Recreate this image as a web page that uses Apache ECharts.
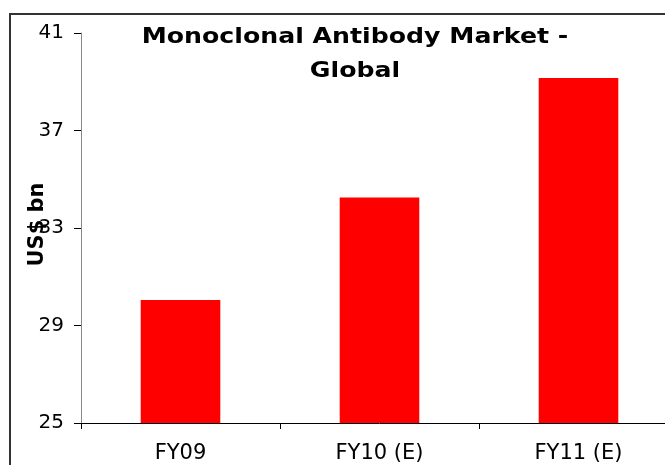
<!DOCTYPE html>
<html>
<head>
<meta charset="utf-8">
<script src="https://cdn.jsdelivr.net/npm/echarts@6/dist/echarts.min.js"></script>
<style>
  html, body { margin: 0; padding: 0; background: #fff; overflow: hidden; }
  /* a bit wider than the window: the last category runs off the right edge */
  #main { width: 680px; height: 465px; }
</style>
</head>
<body>
<div id="main"></div>
<script>
// data
var categories = ['FY09', 'FY10 (E)', 'FY11 (E)'];
var marketSize = [30.05, 34.25, 39.15];
var yTicks = [25, 29, 33, 37, 41];
var chartTitle = 'Monoclonal Antibody Market -\nGlobal';

var chart = echarts.init(document.getElementById('main'));

var option = {
  backgroundColor: '#fff',
  textStyle: { fontFamily: 'DejaVu Sans' },
  animation: false,
  graphic: [
    // outer frame, runs off the right and bottom edges
    {
      type: 'rect',
      shape: { x: 10, y: 14, width: 700, height: 500 },
      style: { fill: 'none', stroke: '#333', lineWidth: 2 },
      z: 100
    },
    // title, a bit wider than DejaVu bold so stretched
    {
      type: 'text',
      x: 355,
      y: 21,
      scaleX: 1.2,
      style: {
        text: chartTitle,
        align: 'center',
        verticalAlign: 'top',
        font: 'bold 21px "DejaVu Sans"',
        lineHeight: 34,
        fill: '#000'
      },
      z: 100
    }
  ],
  grid: { left: 81, top: 33, right: 2, bottom: 42 },
  xAxis: {
    type: 'category',
    data: categories,
    axisLine: { lineStyle: { color: '#000', width: 1 } },
    axisTick: { show: true, length: 6, lineStyle: { color: '#000' } },
    axisLabel: { fontSize: 21, color: '#000', margin: 20 }
  },
  yAxis: {
    type: 'value',
    min: yTicks[0],
    max: yTicks[yTicks.length - 1],
    interval: 4,
    name: 'US$ bn',
    nameLocation: 'middle',
    nameRotate: 90,
    nameGap: 33,
    nameMoveOverlap: false,
    nameTextStyle: { fontSize: 21, fontWeight: 'bold', color: '#000', padding: [0, 0, 0, 7] },
    axisLine: { show: true, lineStyle: { color: '#888', width: 1 } },
    axisTick: { show: true, length: 7, lineStyle: { color: '#000' } },
    axisLabel: { fontSize: 20, color: '#000', margin: 17 },
    splitLine: { show: false }
  },
  series: [{
    type: 'bar',
    data: marketSize,
    barWidth: '40%',
    itemStyle: { color: '#ff0000' }
  }]
};

chart.setOption(option);
</script>
</body>
</html>
